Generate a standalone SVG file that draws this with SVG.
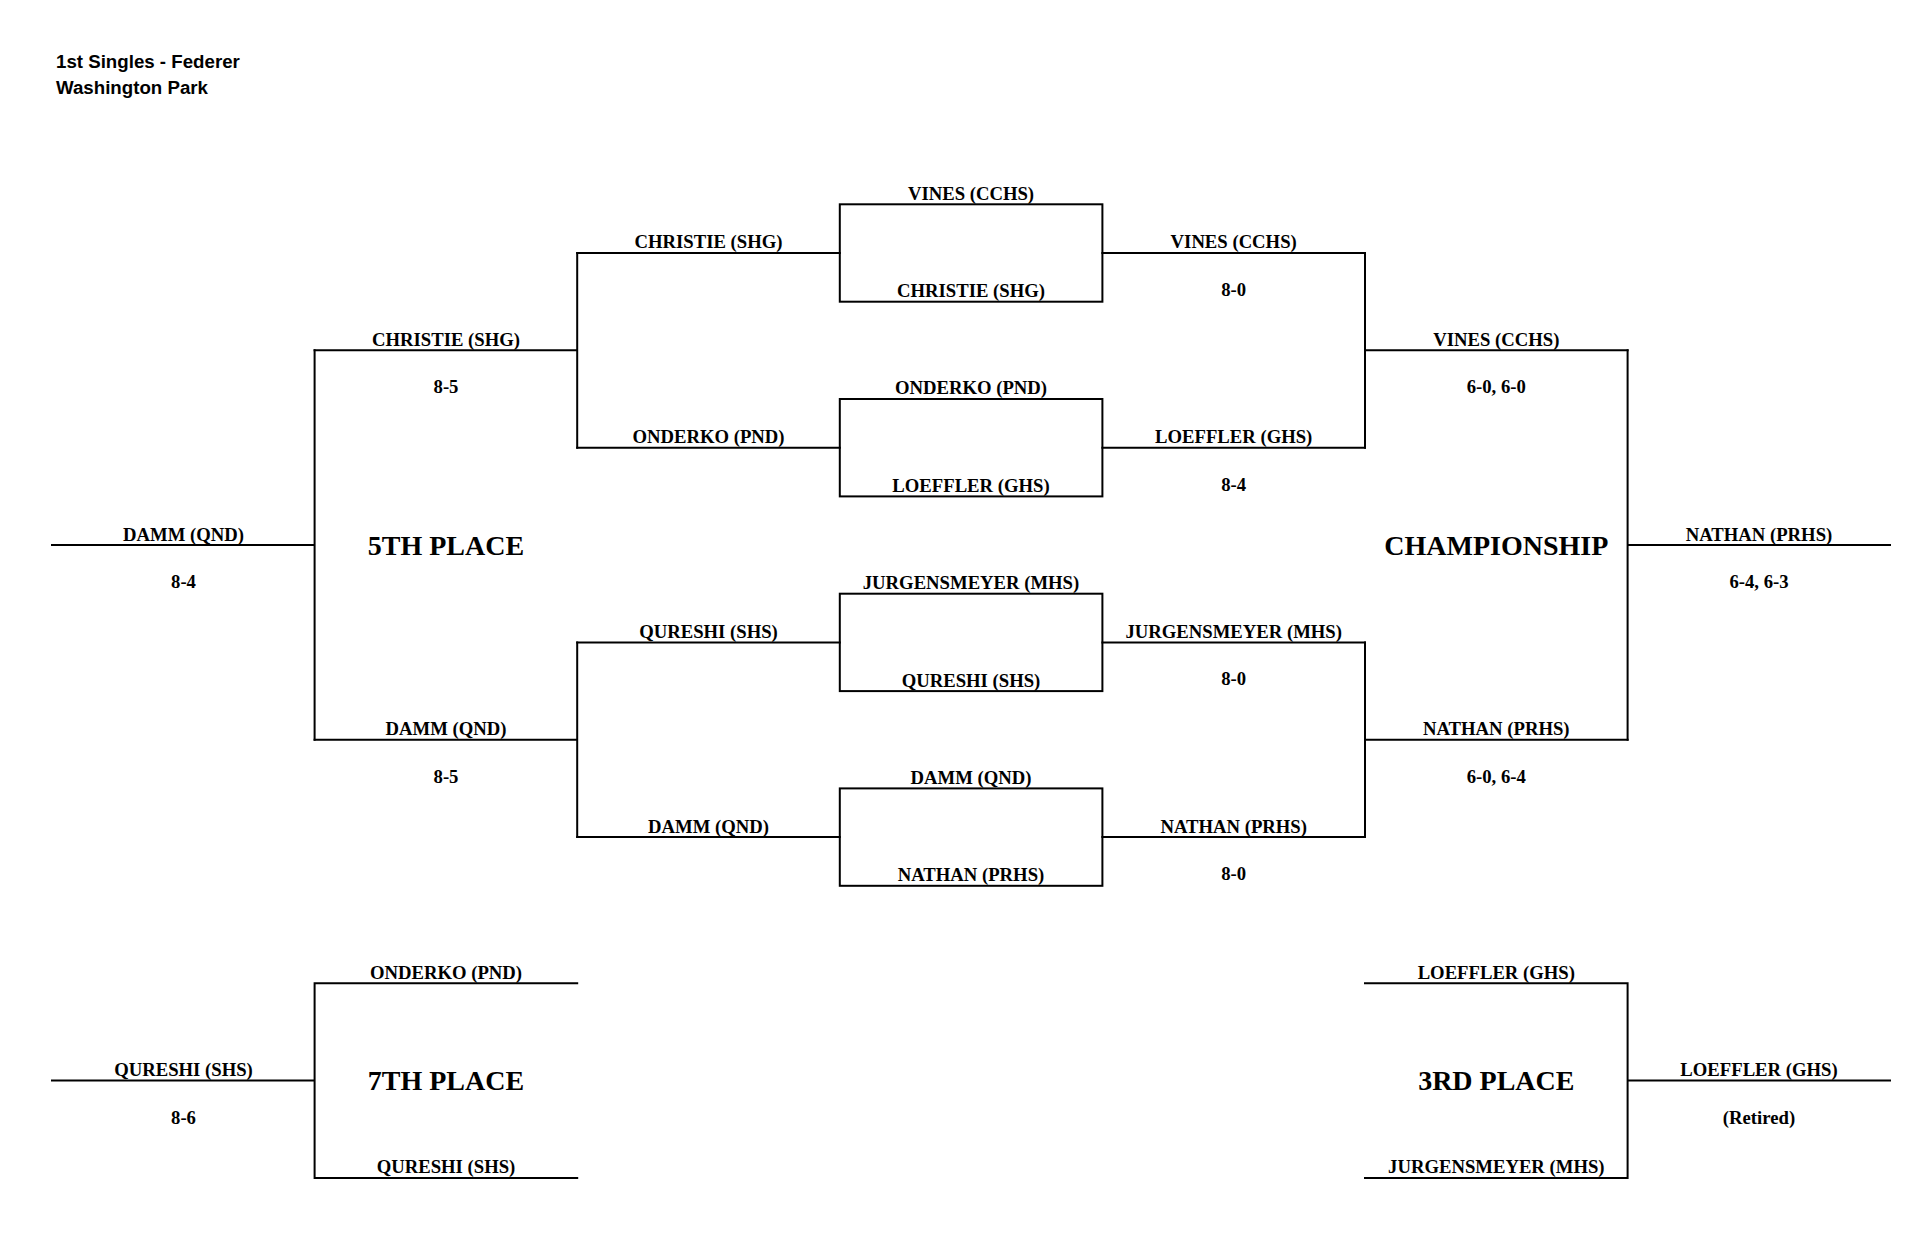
<svg xmlns="http://www.w3.org/2000/svg" width="1930" height="1258" viewBox="0 0 1930 1258">
<style>
.ln{stroke:#000;stroke-width:2;fill:none;stroke-linecap:square}
.t{font-family:"Liberation Serif","Times New Roman",serif;font-weight:bold;font-size:18.7px;text-anchor:middle;fill:#000}
.big{font-family:"Liberation Serif","Times New Roman",serif;font-weight:bold;font-size:28px;text-anchor:middle;fill:#000}
.h{font-family:"Liberation Sans",Arial,sans-serif;font-weight:bold;font-size:18.7px;fill:#000}
</style>
<rect width="1930" height="1258" fill="#fff"/>
<g id="header">
<text class="h" x="56" y="68.3">1st Singles - Federer</text>
<text class="h" x="56" y="93.5">Washington Park</text>
</g>
<g id="connectors">
<!-- quarterfinal boxes -->
<rect class="ln" x="839.8" y="204.3" width="262.6" height="97.4"/>
<rect class="ln" x="839.8" y="399" width="262.6" height="97.4"/>
<rect class="ln" x="839.8" y="593.7" width="262.6" height="97.4"/>
<rect class="ln" x="839.8" y="788.4" width="262.6" height="97.4"/>
<!-- box feeders left -->
<path class="ln" d="M577.2 253H839.8M577.2 447.7H839.8M577.2 642.4H839.8M577.2 837.1H839.8"/>
<!-- box feeders right -->
<path class="ln" d="M1102.4 253H1365M1102.4 447.7H1365M1102.4 642.4H1365M1102.4 837.1H1365"/>
<!-- consolation semis (left) -->
<path class="ln" d="M577.2 253V447.7M577.2 642.4V837.1M314.6 350.3H577.2M314.6 739.8H577.2"/>
<!-- 5th place -->
<path class="ln" d="M314.6 350.3V739.8M52 545.1H314.6"/>
<!-- semis (right) -->
<path class="ln" d="M1365 253V447.7M1365 642.4V837.1M1365 350.3H1627.6M1365 739.8H1627.6"/>
<!-- championship -->
<path class="ln" d="M1627.6 350.3V739.8M1627.6 545.1H1890"/>
<!-- 7th place -->
<path class="ln" d="M577.2 983.2H314.6V1177.9H577.2M52 1080.5H314.6"/>
<!-- 3rd place -->
<path class="ln" d="M1365 983.2H1627.6V1177.9H1365M1627.6 1080.5H1890"/>
</g>
<g id="qf1">
<text class="t" x="971" y="199.7">VINES (CCHS)</text>
<text class="t" x="971" y="297.1">CHRISTIE (SHG)</text>
</g>
<g id="qf2">
<text class="t" x="971" y="394.4">ONDERKO (PND)</text>
<text class="t" x="971" y="491.8">LOEFFLER (GHS)</text>
</g>
<g id="qf3">
<text class="t" x="971" y="589.1">JURGENSMEYER (MHS)</text>
<text class="t" x="971" y="686.5">QURESHI (SHS)</text>
</g>
<g id="qf4">
<text class="t" x="971" y="783.8">DAMM (QND)</text>
<text class="t" x="971" y="881.2">NATHAN (PRHS)</text>
</g>
<g id="cons-left">
<text class="t" x="708.5" y="248.4">CHRISTIE (SHG)</text>
<text class="t" x="708.5" y="443.1">ONDERKO (PND)</text>
<text class="t" x="708.5" y="637.8">QURESHI (SHS)</text>
<text class="t" x="708.5" y="832.5">DAMM (QND)</text>
</g>
<g id="qf-winners">
<text class="t" x="1233.7" y="248.4">VINES (CCHS)</text>
<text class="t" x="1233.7" y="296">8-0</text>
<text class="t" x="1233.7" y="443.1">LOEFFLER (GHS)</text>
<text class="t" x="1233.7" y="490.7">8-4</text>
<text class="t" x="1233.7" y="637.8">JURGENSMEYER (MHS)</text>
<text class="t" x="1233.7" y="685.4">8-0</text>
<text class="t" x="1233.7" y="832.5">NATHAN (PRHS)</text>
<text class="t" x="1233.7" y="880.1">8-0</text>
</g>
<g id="fifth">
<text class="t" x="446" y="345.7">CHRISTIE (SHG)</text>
<text class="t" x="446" y="393.3">8-5</text>
<text class="t" x="446" y="735.2">DAMM (QND)</text>
<text class="t" x="446" y="782.8">8-5</text>
<text class="big" x="446" y="554.6">5TH PLACE</text>
<text class="t" x="183.5" y="540.5">DAMM (QND)</text>
<text class="t" x="183.5" y="588.1">8-4</text>
</g>
<g id="championship">
<text class="t" x="1496.3" y="345.7">VINES (CCHS)</text>
<text class="t" x="1496.3" y="393.3">6-0, 6-0</text>
<text class="t" x="1496.3" y="735.2">NATHAN (PRHS)</text>
<text class="t" x="1496.3" y="782.8">6-0, 6-4</text>
<text class="big" x="1496.3" y="554.6">CHAMPIONSHIP</text>
<text class="t" x="1759" y="540.5">NATHAN (PRHS)</text>
<text class="t" x="1759" y="588.1">6-4, 6-3</text>
</g>
<g id="seventh">
<text class="t" x="446" y="978.6">ONDERKO (PND)</text>
<text class="t" x="446" y="1173.3">QURESHI (SHS)</text>
<text class="big" x="446" y="1090">7TH PLACE</text>
<text class="t" x="183.5" y="1075.9">QURESHI (SHS)</text>
<text class="t" x="183.5" y="1123.5">8-6</text>
</g>
<g id="third">
<text class="t" x="1496.3" y="978.6">LOEFFLER (GHS)</text>
<text class="t" x="1496.3" y="1173.3">JURGENSMEYER (MHS)</text>
<text class="big" x="1496.3" y="1090">3RD PLACE</text>
<text class="t" x="1759" y="1075.9">LOEFFLER (GHS)</text>
<text class="t" x="1759" y="1123.5">(Retired)</text>
</g>
</svg>
